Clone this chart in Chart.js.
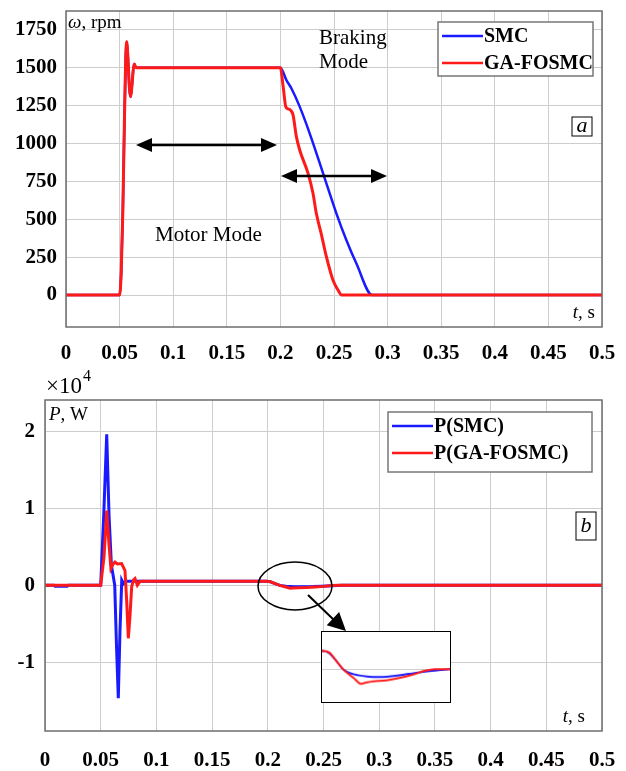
<!DOCTYPE html>
<html>
<head>
<meta charset="utf-8">
<script src="https://cdn.jsdelivr.net/npm/chart.js@4.4.1/dist/chart.umd.min.js"></script>
<style>
  body { margin: 0; background: #fff; }
  #wrap { position: relative; width: 626px; height: 771px; }
  canvas { position: absolute; }
  #speedChart { left: 0; top: 0; }
  #powerChart { left: 0; top: 370px; }
  #zoomChart { left: 321px; top: 631px; border: 1px solid #000; background: #fff; }
</style>
</head>
<body>
<div id="wrap">
  <canvas id="speedChart" width="626" height="370"></canvas>
  <canvas id="powerChart" width="626" height="401"></canvas>
  <canvas id="zoomChart" width="130" height="72"></canvas>
</div>
<script>
// axis ticks
var timeTicks = [0, 0.05, 0.1, 0.15, 0.2, 0.25, 0.3, 0.35, 0.4, 0.45, 0.5];
var timeLabels = ['0', '0.05', '0.1', '0.15', '0.2', '0.25', '0.3', '0.35', '0.4', '0.45', '0.5'];
var speedTicks = [0, 250, 500, 750, 1000, 1250, 1500, 1750];
var powerTicks = [-10000, 0, 10000, 20000];
var powerLabels = ['-1', '0', '1', '2'];

// speed, rpm (a)
var speedTimeSmc = [0, 0.05, 0.0515, 0.053, 0.0545, 0.0557, 0.0566, 0.0578, 0.0592, 0.0603, 0.0615, 0.0628, 0.0637, 0.0648, 0.066,
  0.2, 0.2056, 0.2102, 0.218, 0.2273, 0.2398, 0.2522, 0.2615, 0.2708, 0.2857, 0.5];
var speedSmc = [0, 0, 150, 550, 1150, 1560, 1671, 1560, 1360, 1309, 1380, 1490, 1525, 1505, 1500,
  1500, 1418, 1364, 1243, 1067, 803, 539, 363, 209, 0, 0];
var speedTimeGa = [0, 0.05, 0.0515, 0.053, 0.0545, 0.0557, 0.0566, 0.0578, 0.0592, 0.0603, 0.0615, 0.0628, 0.0637, 0.0648, 0.066,
  0.2, 0.2025, 0.205, 0.2072, 0.2094, 0.2118, 0.2149, 0.218, 0.2258, 0.2304, 0.2335, 0.238, 0.2429, 0.249, 0.2537, 0.2571, 0.5];
var speedGa = [0, 0, 150, 550, 1150, 1560, 1671, 1560, 1360, 1309, 1380, 1490, 1525, 1505, 1500,
  1500, 1380, 1243, 1228, 1220, 1188, 1045, 957, 803, 671, 539, 407, 253, 99, 33, 0, 0];

// power, W (b)
var powerTimeSmc = [0, 0.008, 0.009, 0.02, 0.021, 0.05, 0.0527, 0.0554, 0.0575, 0.0596, 0.0626, 0.0642, 0.0658, 0.0673, 0.0689, 0.0705, 0.0725,
  0.1989, 0.2023, 0.206, 0.2107, 0.2163, 0.2239, 0.2313, 0.2407, 0.2482, 0.2576, 0.2669, 0.2717, 0.5];
var powerSmc = [0, 0, -130, -130, 0, 0, 9000, 19600, 9000, 2600, 0, -8000, -14700, -6000, 650, 200, 500,
  500, 432, 240, -26, -140, -200, -218, -184, -132, -71, -26, 0, 0];
var powerTimeGa = [0, 0.05, 0.053, 0.0554, 0.0576, 0.0592, 0.061, 0.0628, 0.065, 0.0688, 0.0718, 0.0733, 0.0748, 0.0763, 0.0778, 0.0795, 0.0808, 0.0829, 0.0853,
  0.1989, 0.2023, 0.206, 0.2107, 0.2163, 0.2201, 0.2229, 0.2276, 0.2351, 0.2426, 0.2501, 0.2576, 0.2632, 0.5];
var powerGa = [0, 0, 3700, 9700, 5000, 2150, 2700, 3000, 2750, 2800, 1900, -2000, -6900, -4000, -200, 700, 860, 0, 500,
  500, 455, 240, -26, -245, -403, -376, -334, -308, -245, -158, -45, 0, 0];

var serif = '"Liberation Serif", "Times New Roman", serif';
var RED = '#ff1a1a', BLUE = '#1a1aff';

function pts(t, v) {
  return t.map(function (x, i) { return { x: x, y: v[i] }; });
}

function label(c, parts, x, y, align) {
  c.textBaseline = 'middle';
  c.textAlign = 'left';
  var w = 0;
  parts.forEach(function (p) { c.font = p[1]; w += c.measureText(p[0]).width; });
  var cx = align === 'right' ? x - w : (align === 'center' ? x - w / 2 : x);
  parts.forEach(function (p) {
    c.font = p[1];
    c.fillText(p[0], cx, y);
    cx += c.measureText(p[0]).width;
  });
}

function head(c, x, y, ang, len, half) {
  c.save();
  c.translate(x, y);
  c.rotate(ang);
  c.beginPath();
  c.moveTo(0, 0);
  c.lineTo(-len, -half);
  c.lineTo(-len, half);
  c.closePath();
  c.fill();
  c.restore();
}

function doubleArrow(c, x1, x2, y) {
  c.strokeStyle = '#000';
  c.fillStyle = '#000';
  c.lineWidth = 2.5;
  c.beginPath();
  c.moveTo(x1 + 10, y);
  c.lineTo(x2 - 10, y);
  c.stroke();
  head(c, x2, y, 0, 16, 7);
  head(c, x1, y, Math.PI, 16, 7);
}

function frame(c, a) {
  c.strokeStyle = '#6e6e6e';
  c.lineWidth = 1.5;
  c.strokeRect(a.left, a.top, a.right - a.left, a.bottom - a.top);
}

function legendBox(c, x, y, w, h, items) {
  c.fillStyle = '#fff';
  c.fillRect(x, y, w, h);
  c.strokeStyle = '#777';
  c.lineWidth = 1.5;
  c.strokeRect(x, y, w, h);
  items.forEach(function (it, i) {
    var ly = y + 14 + i * 27;
    c.strokeStyle = it[1];
    c.lineWidth = 2.5;
    c.beginPath();
    c.moveTo(x + 4, ly);
    c.lineTo(x + 45, ly);
    c.stroke();
    c.fillStyle = '#000';
    label(c, [[it[0], 'bold 20px ' + serif]], x + 46, ly + 1);
  });
}

function tagBox(c, x, y, w, h, txt) {
  c.fillStyle = '#fff';
  c.fillRect(x, y, w, h);
  c.strokeStyle = '#000';
  c.lineWidth = 1;
  c.strokeRect(x, y, w, h);
  c.fillStyle = '#000';
  label(c, [[txt, 'italic 22px ' + serif]], x + w / 2, y + h / 2, 'center');
}

function axisOptions(opt) {
  return {
    x: {
      type: 'linear', min: 0, max: 0.5,
      afterBuildTicks: function (s) { s.ticks = timeTicks.map(function (v) { return { value: v }; }); },
      afterFit: function (s) { s.height = opt.xHeight; s.paddingLeft = 0; s.paddingRight = 0; },
      grid: { color: '#cdcdcd', lineWidth: 1, drawTicks: false },
      border: { display: false },
      ticks: {
        padding: opt.xPad, color: '#000', maxRotation: 0, autoSkip: false,
        font: { family: serif, weight: 'bold', size: 21 },
        callback: function (v, i) { return timeLabels[i]; }
      }
    },
    y: {
      type: 'linear', min: opt.yMin, max: opt.yMax,
      afterBuildTicks: function (s) { s.ticks = opt.yTicks.map(function (v) { return { value: v }; }); },
      afterFit: function (s) { s.width = opt.yWidth; s.paddingTop = 0; s.paddingBottom = 0; },
      grid: { color: '#cdcdcd', lineWidth: 1, drawTicks: false },
      border: { display: false },
      ticks: {
        padding: opt.yPad, color: '#000',
        font: { family: serif, weight: 'bold', size: 21 },
        callback: function (v, i) { return opt.yLabels[i]; }
      }
    }
  };
}

var commonPlugins = { legend: { display: false }, tooltip: { enabled: false } };

// (a) speed
var speedNotes = {
  id: 'speedNotes',
  afterDraw: function (chart) {
    var c = chart.ctx, a = chart.chartArea;
    frame(c, a);
    c.fillStyle = '#000';
    label(c, [['ω', 'italic 19px ' + serif], [', rpm', '19px ' + serif]], a.left + 2, 23);
    label(c, [['Braking', '21px ' + serif]], 319, 38);
    label(c, [['Mode', '21px ' + serif]], 319, 62);
    label(c, [['Motor Mode', '21px ' + serif]], 155, 235);
    label(c, [['t', 'italic 19px ' + serif], [', s', '19px ' + serif]], 595, 313, 'right');
    doubleArrow(c, 136, 277, 145);
    doubleArrow(c, 281, 387, 176);
    legendBox(c, 438, 22, 155, 54, [['SMC', BLUE], ['GA-FOSMC', RED]]);
    tagBox(c, 572, 117, 20, 19, 'a');
  }
};

new Chart(document.getElementById('speedChart'), {
  type: 'line',
  data: {
    datasets: [
      { label: 'GA-FOSMC', data: pts(speedTimeGa, speedGa), borderColor: RED, borderWidth: 3, pointRadius: 0, cubicInterpolationMode: 'monotone' },
      { label: 'SMC', data: pts(speedTimeSmc, speedSmc), borderColor: BLUE, borderWidth: 2.5, pointRadius: 0, cubicInterpolationMode: 'monotone' }
    ]
  },
  options: {
    responsive: false, animation: false,
    layout: { padding: { top: 11, right: 24, left: 0, bottom: 0 } },
    scales: axisOptions({ yMin: -211, yMax: 1874, yTicks: speedTicks, yLabels: speedTicks.map(String), yWidth: 66, xHeight: 43, xPad: 14, yPad: 9 }),
    plugins: commonPlugins
  },
  plugins: [speedNotes]
});

// (b) power
var powerNotes = {
  id: 'powerNotes',
  afterDraw: function (chart) {
    var c = chart.ctx, a = chart.chartArea;
    frame(c, a);
    c.fillStyle = '#000';
    label(c, [['×10', '23px ' + serif]], 46, 17);
    label(c, [['4', '16px ' + serif]], 83, 7);
    label(c, [['P', 'italic 19px ' + serif], [', W', '19px ' + serif]], a.left + 4, 45);
    label(c, [['t', 'italic 19px ' + serif], [', s', '19px ' + serif]], 585, 347, 'right');
    legendBox(c, 388, 42, 204, 60, [['P(SMC)', BLUE], ['P(GA-FOSMC)', RED]]);
    tagBox(c, 576, 142, 20, 28, 'b');
    // ellipse around the braking dip and arrow to the zoom box
    c.strokeStyle = '#000';
    c.lineWidth = 1.5;
    c.beginPath();
    c.ellipse(295, 216, 37, 24, 0, 0, Math.PI * 2);
    c.stroke();
    c.lineWidth = 2;
    c.beginPath();
    c.moveTo(308, 225);
    c.lineTo(335, 251);
    c.stroke();
    c.fillStyle = '#000';
    head(c, 346, 261, Math.atan2(36, 38), 18, 9);
  }
};

new Chart(document.getElementById('powerChart'), {
  type: 'line',
  data: {
    datasets: [
      { label: 'P(GA-FOSMC)', data: pts(powerTimeGa, powerGa), borderColor: RED, borderWidth: 3, pointRadius: 0, tension: 0 },
      { label: 'P(SMC)', data: pts(powerTimeSmc, powerSmc), borderColor: BLUE, borderWidth: 3, pointRadius: 0, tension: 0 }
    ]
  },
  options: {
    responsive: false, animation: false,
    layout: { padding: { top: 30, right: 24, left: 0, bottom: 0 } },
    scales: axisOptions({ yMin: -18950, yMax: 24060, yTicks: powerTicks, yLabels: powerLabels, yWidth: 45, xHeight: 40, xPad: 17, yPad: 10 }),
    plugins: commonPlugins
  },
  plugins: [powerNotes]
});

// zoomed view of the braking dip
new Chart(document.getElementById('zoomChart'), {
  type: 'line',
  data: {
    datasets: [
      { data: pts(powerTimeGa, powerGa), borderColor: RED, borderWidth: 2, pointRadius: 0, tension: 0.3 },
      { data: pts(powerTimeSmc, powerSmc), borderColor: BLUE, borderWidth: 2, pointRadius: 0, tension: 0.3 }
    ]
  },
  options: {
    responsive: false, animation: false,
    layout: { padding: 0 },
    scales: {
      x: { type: 'linear', min: 0.198, max: 0.272, display: false },
      y: {
        type: 'linear', min: -903, max: 1018,
        afterBuildTicks: function (s) { s.ticks = [{ value: 0 }]; },
        afterFit: function (s) { s.width = 0; },
        grid: { color: '#cdcdcd', drawTicks: false },
        border: { display: false },
        ticks: { display: false }
      }
    },
    plugins: commonPlugins
  }
});
</script>
</body>
</html>
